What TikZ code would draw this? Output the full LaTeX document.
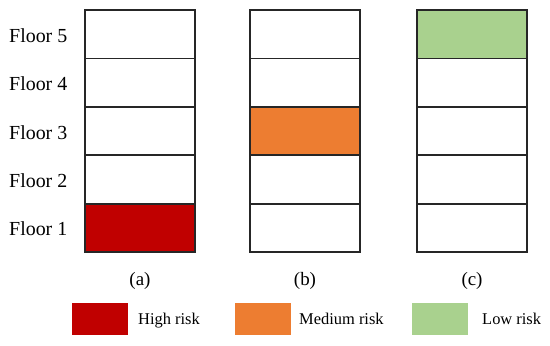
\documentclass[tikz,border=0pt]{standalone}
\usepackage{fontspec}
\setmainfont{Liberation Serif}
\usepackage{xcolor}
\usetikzlibrary{positioning}
\definecolor{highrisk}{HTML}{C00000}
\definecolor{medrisk}{HTML}{ED7D31}
\definecolor{lowrisk}{HTML}{A9D18E}

\begin{document}
\begin{tikzpicture}[x=1bp,y=-1bp,
  floor/.style={draw=black!85,line width=1.8bp,minimum width=110bp,minimum height=48.4bp,inner sep=0pt},
  keybox/.style={minimum width=56bp,minimum height=32bp,inner sep=0pt}]
  \useasboundingbox (0,0) rectangle (550,345);
  % floor names on the left
  \foreach \f in {1,...,5}
    \node[anchor=base west,inner sep=0pt,font=\fontsize{20}{24}\selectfont] (lab\f) at (9,{252-48.4*(\f-0.5)+8}) {Floor \f};
  % three buildings, one floor coloured in each
  \foreach \b/\x/\lvl/\col in {a/140/1/highrisk,b/305/3/medrisk,c/472/5/lowrisk}{
    \foreach \f in {1,...,5}{
      \ifnum\f=\lvl\def\fc{\col}\else\def\fc{white}\fi
      \node[floor,fill=\fc] (\b\f) at (\x,{252-48.4*(\f-0.5)}) {};
    }
    \node[anchor=base,inner sep=0pt,font=\fontsize{19}{23}\selectfont] (cap\b) at (\x,285) {(\b)};
  }
  % legend
  \foreach \k/\bx/\tx/\col/\txt in {high/100/138/highrisk/High risk,med/263/299/medrisk/Medium risk,low/440/482/lowrisk/Low risk}{
    \node[keybox,fill=\col] (key\k) at (\bx,319) {};
    \node[anchor=base west,inner sep=0pt,font=\fontsize{16.5}{20}\selectfont] (txt\k) at (\tx,324) {\txt};
  }
\end{tikzpicture}
\end{document}
